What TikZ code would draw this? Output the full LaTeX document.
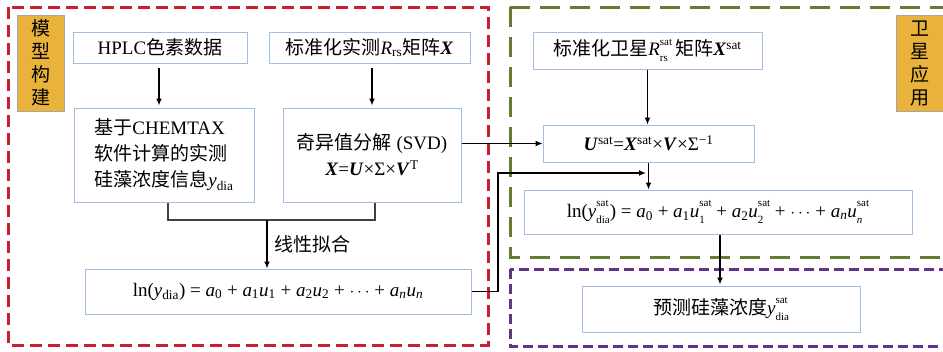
\documentclass[tikz,border=0pt]{standalone}
\usepackage{fontspec}
\setmainfont{Liberation Serif}
\newfontfamily\cjk{Noto Sans CJK SC}
\usetikzlibrary{arrows.meta}
\definecolor{redf}{RGB}{200,30,45}
\definecolor{greenf}{RGB}{100,125,50}
\definecolor{purplef}{RGB}{100,50,135}
\definecolor{boxblue}{RGB}{160,190,225}
\definecolor{orangef}{RGB}{233,178,58}
\newcommand\vi[1]{\textit{#1}}
\newcommand\vb[1]{\textbf{\textit{#1}}}
\newcommand\sbs[1]{\textsubscript{#1}}
\newcommand\sps[1]{\textsuperscript{#1}}
\newcommand\supsub[2]{\sbox0{\raisebox{0.55em}{\fontsize{11}{11}\selectfont #1}}\sbox2{\raisebox{-0.32em}{\fontsize{11}{11}\selectfont #2}}\ifdim\wd0>\wd2 \rlap{\usebox2}\usebox0\else\rlap{\usebox0}\usebox2\fi}
\tikzset{
  box/.style={draw=boxblue, line width=1pt, fill=white, inner sep=0pt, align=center,
    font=\fontsize{19}{26}\selectfont},
  tag/.style={draw=gray!70, fill=orangef, line width=0.8pt, minimum width=47pt, minimum height=96pt,
    inner sep=0pt, align=center, font=\fontsize{19}{23}\selectfont\cjk},
  arr/.style={line width=1.8pt, -{Latex[length=7pt,width=6pt]}},
  redframe/.style={draw=redf, line width=3pt, dash pattern=on 12pt off 6pt},
  greenframe/.style={draw=greenf, line width=3pt, dash pattern=on 20pt off 10pt},
  purpleframe/.style={draw=purplef, line width=3pt, dash pattern=on 10pt off 5pt},
}
\begin{document}
\begin{tikzpicture}[x=1pt,y=-1pt]
\clip (0,0) rectangle (943,351);
\fill[white] (0,0) rectangle (943,351);
% frames
\draw[redframe] (8,7) rectangle (488,345);
\draw[greenframe] (510,7) rectangle (960,257);
\draw[purpleframe] (510,269) rectangle (960,346);
% tags
\node[tag] (t1) at (40.5,63) {模\\型\\构\\建};
\node[tag] (t2) at (919.5,63.5) {卫\\星\\应\\用};
% boxes
\node[box, minimum width=174pt, minimum height=31pt] (hplc) at (160,47.5) {HPLC{\cjk 色素数据}};
\node[box, minimum width=201pt, minimum height=31pt] (rrs) at (369.5,47.5) {{\cjk 标准化实测}\vi{R}\sbs{rs}{\cjk 矩阵}\vb{X}};
\node[box, minimum width=180pt, minimum height=94pt, align=left] (chem) at (164,155)
  {{\cjk 基于}CHEMTAX\\{\cjk 软件计算的实测}\\{\cjk 硅藻浓度信息}\vi{y}\sbs{dia}};
\node[box, minimum width=178pt, minimum height=94pt] (svd) at (372,155)
  {{\cjk 奇异值分解} (SVD)\\\vb{X}=\vb{U}×Σ×\vb{V}\sps{T}};
\node[box, minimum width=386pt, minimum height=45pt] (ln) at (278,291.5)
  {ln(\vi{y}\sbs{dia}) = \vi{a}\sbs{0} + \vi{a}\sbs{1}\vi{u}\sbs{1} + \vi{a}\sbs{2}\vi{u}\sbs{2} + $\cdots$ + \vi{a}\sbs{\vi{n}}\vi{u}\sbs{\vi{n}}};
\node[box, minimum width=229pt, minimum height=37pt] (rsat) at (647.5,50.5)
  {{\cjk 标准化卫星}\vi{R}\supsub{sat}{rs}\,{\cjk 矩阵}\vb{X}\sps{sat}};
\node[box, minimum width=211pt, minimum height=37pt] (u) at (648.5,143.5)
  {\vb{U}\sps{sat}=\vb{X}\sps{sat}×\vb{V}×Σ\sps{−1}};
\node[box, minimum width=388pt, minimum height=44pt] (lnsat) at (718,212)
  {ln(\vi{y}\supsub{sat}{dia}) = \vi{a}\sbs{0} + \vi{a}\sbs{1}\vi{u}\supsub{sat}{1} + \vi{a}\sbs{2}\vi{u}\supsub{sat}{2} + $\cdots$ + \vi{a}\sbs{\vi{n}}\vi{u}\supsub{sat}{\vi{n}}};
\node[box, minimum width=278pt, minimum height=46pt] (pred) at (721,309)
  {{\cjk 预测硅藻浓度}\vi{y}\supsub{sat}{dia}};
% connectors
\draw[arr, shorten <=4pt, shorten >=2pt] (hplc.south -| 159,0) -- (chem.north -| 159,0);
\draw[arr, shorten <=4pt, shorten >=2pt] (rrs.south -| 372,0) -- (svd.north -| 372,0);
\coordinate (m) at (267,220);
\draw[line width=1.5pt, draw=black!75] (chem.south -| 168,0) |- (m) -| (svd.south -| 375,0);
\draw[arr] (m) -- node[right=3pt, font=\fontsize{19}{23}\selectfont\cjk] {线性拟合} (m |- ln.north);
\coordinate (j) at (646,173);
\draw[arr] (ln.east) -| (498,173) -- (j);
\draw[arr] (u.west -| svd.east) -- (u.west);
\draw[arr] (rsat.south) -- (rsat.south |- u.north);
\draw[arr] (u.south) -- (u.south |- lnsat.north);
\draw[arr, shorten >=1pt] (lnsat.south -| 720,0) -- (pred.north -| 720,0);
\end{tikzpicture}
\end{document}
